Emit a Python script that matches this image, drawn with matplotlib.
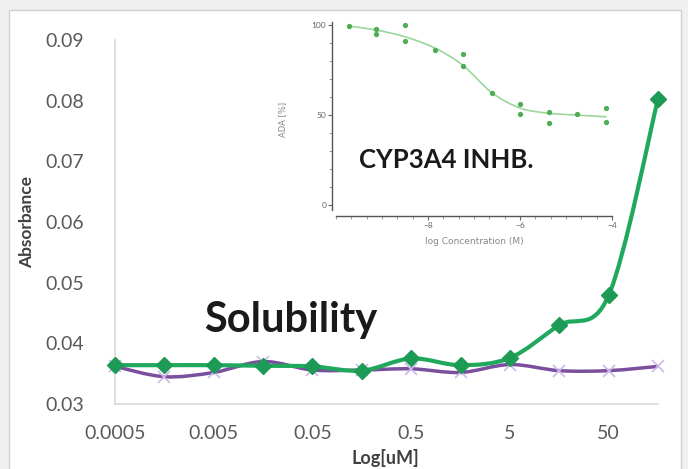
"""Solubility curve with CYP3A4 inhibition inset."""
import numpy as np
import matplotlib
matplotlib.use("Agg")
import matplotlib.pyplot as plt
from matplotlib.path import Path
from matplotlib.patches import PathPatch, Rectangle
from matplotlib.ticker import MultipleLocator, FixedLocator

plt.rcParams["font.family"] = ["Lato", "DejaVu Sans"]

# main chart: concentration (uM) vs absorbance
conc = [0.0005, 0.00158, 0.005, 0.0158, 0.05, 0.158,
        0.5, 1.58, 5, 15.8, 50, 158]
tick_vals = [0.0005, 0.005, 0.05, 0.5, 5, 50]
tick_labels = ["0.0005", "0.005", "0.05", "0.5", "5", "50"]
compound = [0.0364, 0.0364, 0.0364, 0.0363, 0.0362, 0.0355,
            0.0375, 0.0364, 0.0376, 0.0430, 0.0479, 0.0803]
blank = [0.0362, 0.0345, 0.0352, 0.0370, 0.0356, 0.0356,
         0.0358, 0.0352, 0.0365, 0.0355, 0.0355, 0.0362]

# inset: log concentration (M) vs activity (%)
ins_x = [-9.71, -9.12, -9.12, -8.5, -8.5, -7.85, -7.25, -7.25,
         -6.61, -6.0, -6.0, -5.38, -5.38, -4.77, -4.12, -4.12]
ins_y = [99.4, 97.6, 94.8, 100, 91, 86, 83.7, 77,
         62.4, 56, 50.6, 51.9, 45.7, 50.4, 53.7, 46.3]
fit_x = [-9.71, -9.12, -8.5, -7.85, -7.25, -6.61, -6.0, -5.38, -4.77, -4.12]
fit_y = [99.4, 97.2, 93.5, 87.2, 77.8, 62.4, 53.9, 51.0, 50.0, 49.0]


def smooth_path(xs, ys, logx=False):
    # excel-like smoothed line: catmull-rom segments as cubic beziers
    u = np.log10(xs) if logx else np.asarray(xs, float)
    v = np.asarray(ys, float)
    n = len(u)
    verts = [(u[0], v[0])]
    codes = [Path.MOVETO]
    for i in range(n - 1):
        a, b = max(i - 1, 0), min(i + 2, n - 1)
        c1 = (u[i] + (u[i + 1] - u[a]) / 6, v[i] + (v[i + 1] - v[a]) / 6)
        c2 = (u[i + 1] - (u[b] - u[i]) / 6, v[i + 1] - (v[b] - v[i]) / 6)
        verts += [c1, c2, (u[i + 1], v[i + 1])]
        codes += [Path.CURVE4] * 3
    verts = np.array(verts)
    if logx:
        verts[:, 0] = 10 ** verts[:, 0]
    return Path(verts, codes)


fig = plt.figure(figsize=(6.88, 4.69), dpi=100, facecolor="#f0f0f0")
fig.patches.append(Rectangle((9 / 688, -0.01), 672 / 688, 1 - 10 / 469 + 0.01,
                             transform=fig.transFigure, facecolor="white",
                             edgecolor="#d0d0d0", lw=1, zorder=-10))

ax = fig.add_axes([115 / 688, 1 - 404 / 469, 543 / 688, 364 / 469])
ax.set_facecolor("none")
ax.set_xscale("log")
ax.set_xlim(conc[0], conc[-1])
ax.set_ylim(0.03, 0.09)
ax.set_yticks([0.03, 0.04, 0.05, 0.06, 0.07, 0.08, 0.09])
ax.set_yticklabels(["0.03", "0.04", "0.05", "0.06", "0.07", "0.08", "0.09"])
ax.xaxis.set_major_locator(FixedLocator(tick_vals))
ax.xaxis.set_minor_locator(FixedLocator([]))
ax.set_xticklabels(tick_labels)
ax.tick_params(length=0, labelsize=14, colors="#595959")
ax.tick_params(axis="y", pad=22)
ax.tick_params(axis="x", pad=15)
for s in ["top", "right"]:
    ax.spines[s].set_visible(False)
for s in ["left", "bottom"]:
    ax.spines[s].set_color("#d9d9d9")
    ax.spines[s].set_linewidth(1.2)

ax.add_patch(PathPatch(smooth_path(conc, blank, logx=True), fill=False,
                       ec="#7a4f9e", lw=2.5, zorder=3, clip_on=False))
ax.plot(conc, blank, ls="none", marker="x", ms=8, mew=1.2,
        color="#cdb8ea", zorder=4, clip_on=False)
ax.add_patch(PathPatch(smooth_path(conc, compound, logx=True), fill=False,
                       ec="#20a95c", lw=3, zorder=5, clip_on=False))
ax.plot(conc, compound, ls="none", marker="D", ms=8,
        color="#1d9a55", zorder=6, clip_on=False)

ax.text(0.03, 0.0438, "Solubility", fontsize=30, fontweight="bold",
        color="#1a1a1a", ha="center", va="center")
fig.text(385 / 688, 1 - 458 / 469, "Log[uM]", fontsize=13, fontweight="bold",
         color="#404040", ha="center", va="center")
fig.text(27 / 688, 1 - 222 / 469, "Absorbance", fontsize=12.5,
         fontweight="bold", color="#404040", rotation=90,
         ha="center", va="center")

# inset
ins = fig.add_axes([336 / 688, 1 - 216 / 469, 276 / 688, 194 / 469])
ins.set_facecolor("none")
ins.set_xlim(-10, -4)
ins.set_ylim(-6.1, 101.7)
for s in ["top", "right"]:
    ins.spines[s].set_visible(False)
for s in ["left", "bottom"]:
    ins.spines[s].set_color("#555555")
    ins.spines[s].set_linewidth(1)
ins.spines["left"].set_position(("outward", 3))
ins.spines["left"].set_bounds(-3, 101.7)
ins.set_yticks([0, 50, 100])
ins.yaxis.set_minor_locator(MultipleLocator(10))
ins.set_xticks([-8, -6, -4])
ins.xaxis.set_minor_locator(MultipleLocator(1 / 3))
ins.tick_params(which="major", length=3, width=0.8, labelsize=6,
                colors="#666666", pad=1)
ins.tick_params(which="minor", length=2, width=0.6, color="#888888")
ins.set_xlabel("log Concentration (M)", fontsize=6.5, color="#888888",
               labelpad=6, family=["DejaVu Sans"])
ins.set_ylabel("ADA [%]", fontsize=6, color="#888888", labelpad=18,
               family=["DejaVu Sans"])

ins.add_patch(PathPatch(smooth_path(fit_x, fit_y), fill=False,
                        ec="#9ad69a", lw=1.2))
ins.plot(ins_x, ins_y, ls="none", marker="o", ms=2.8, color="#4fae55")
ins.text(-7.6, 25, "CYP3A4 INHB.", fontsize=18.5, fontweight="bold",
         color="#1a1a1a", ha="center", va="center")

fig.savefig("out.png", dpi=100, facecolor=fig.get_facecolor())
